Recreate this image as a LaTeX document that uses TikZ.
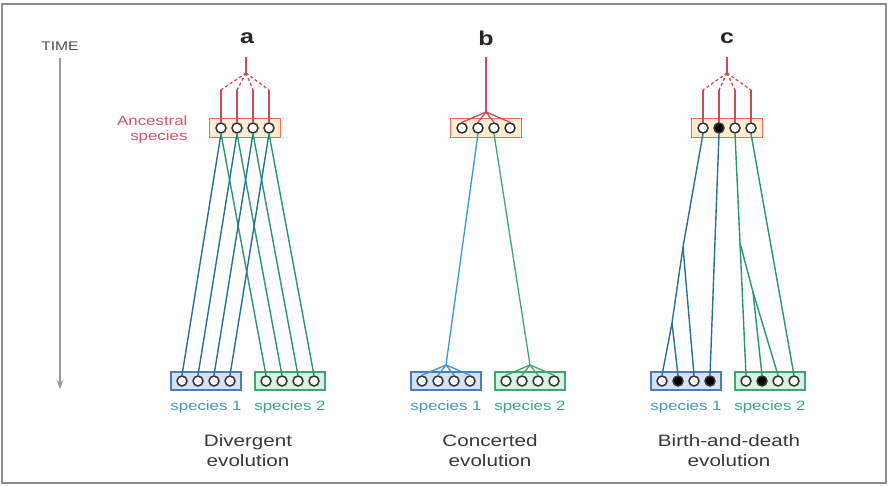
\documentclass[tikz,border=0pt]{standalone}
\usepackage{fontspec}
\setmainfont[FakeStretch=1.25]{Liberation Sans}
\usetikzlibrary{arrows.meta}
\definecolor{anctext}{RGB}{205,85,105}
\definecolor{ancline}{RGB}{205,75,85}
\definecolor{ancdraw}{RGB}{230,115,85}
\definecolor{ancfill}{RGB}{252,236,214}
\definecolor{blueline}{RGB}{40,110,150}
\definecolor{greenline}{RGB}{40,150,110}
\definecolor{bluedraw}{RGB}{75,125,190}
\definecolor{bluefill}{RGB}{212,226,245}
\definecolor{greendraw}{RGB}{65,165,115}
\definecolor{greenfill}{RGB}{218,241,226}
\definecolor{bluetext}{RGB}{75,150,185}
\definecolor{greentext}{RGB}{60,165,130}
\definecolor{framegray}{RGB}{140,140,140}
\definecolor{arrowgray}{RGB}{155,155,155}
\begin{document}
\begin{tikzpicture}[x=1pt,y=-1pt,
  gene/.style={circle, draw=black!80, fill=white, line width=1.5pt, minimum size=10pt, inner sep=0pt},
  dead/.style={gene, fill=black},
  ancbox/.style={draw=ancdraw, fill=ancfill, line width=1.3pt, minimum width=71pt, minimum height=19pt, inner sep=0pt},
  spAbox/.style={draw=bluedraw, fill=bluefill, line width=1.3pt, minimum width=70pt, minimum height=18pt, inner sep=0pt},
  spBbox/.style={draw=greendraw, fill=greenfill, line width=1.3pt, minimum width=70pt, minimum height=18pt, inner sep=0pt},
  paneltitle/.style={font=\fontsize{20}{22}\selectfont\bfseries, text=black!85},
  evo/.style={font=\fontsize{16.5}{20}\selectfont, text=black!78, align=center},
  spAlab/.style={font=\fontsize{13.5}{15}\selectfont, text=bluetext},
  spBlab/.style={font=\fontsize{13.5}{15}\selectfont, text=greentext},
  anclink/.style={draw=ancline, line width=1.3pt},
  ancdash/.style={draw=ancline, line width=1.3pt, dash pattern=on 3pt off 2.5pt},
  linkA/.style={draw=blueline, line width=1.4pt},
  linkB/.style={draw=greenline, line width=1.4pt},
  fanA/.style={draw=bluedraw!80!cyan, line width=1.3pt},
  fanB/.style={draw=greendraw, line width=1.3pt}
]
\useasboundingbox (0,0) rectangle (889,486);
\draw[framegray, line width=2pt] (2,4) rectangle (886,483);

% TIME arrow
\node[font=\fontsize{12.5}{14}\selectfont, text=black!70] (time) at (60,46) {TIME};
\coordinate (tend) at (60,389);
\draw[arrowgray, line width=2.2pt, -{Stealth[length=9pt,width=7pt]}] (time.south) ++(0,4) -- (tend);

% Ancestral label
\node[font=\fontsize{13.5}{15}\selectfont, text=anctext, align=right, anchor=east] (anclab) at (191,130) {Ancestral\\species};

%================ panel a
\node[paneltitle] (ta) at (247,38) {a};
\node[ancbox] (ancA) at (245,128) {};
\node[spAbox] (sAa) at (206,381) {};
\node[spBbox] (sBa) at (290,381) {};
\foreach \i/\x in {0/221,1/237,2/253,3/269} {\node[gene] (a\i) at (\x,128) {};}
\foreach \i/\x in {0/182,1/198,2/214,3/230} {\node[gene] (aA\i) at (\x,381) {};}
\foreach \i/\x in {0/266,1/282,2/298,3/314} {\node[gene] (aB\i) at (\x,381) {};}
\coordinate (stemTa) at (246,57);
\coordinate (apexa) at (246,73);
\draw[anclink] (stemTa) -- (apexa);
\foreach \i/\x in {0/221,1/237,2/253,3/269} {
  \coordinate (ta\i) at (\x,90);
  \draw[ancdash] (apexa) -- (ta\i);
  \draw[anclink] (ta\i) -- (a\i.north);
}
\foreach \i in {0,1,2,3} {
  \draw[linkA] (a\i.south) -- (aA\i.north);
  \draw[linkB] (a\i.south) -- (aB\i.north);
}
\node[spAlab] (la1) at (206,407) {species 1};
\node[spBlab] (la2) at (290,407) {species 2};
\node[evo] (eva) at (248,451) {Divergent\\evolution};

%================ panel b
\node[paneltitle] (tb) at (486,38) {b};
\node[ancbox] (ancB) at (486,128) {};
\node[spAbox] (sAb) at (446,381) {};
\node[spBbox] (sBb) at (530,381) {};
\foreach \i/\x in {0/462,1/478,2/494,3/510} {\node[gene] (b\i) at (\x,128) {};}
\foreach \i/\x in {0/422,1/438,2/454,3/470} {\node[gene] (bA\i) at (\x,381) {};}
\foreach \i/\x in {0/506,1/522,2/538,3/554} {\node[gene] (bB\i) at (\x,381) {};}
\coordinate (stemTb) at (486,57);
\coordinate (fanb) at (486,112);
\draw[anclink] (stemTb) -- (fanb);
\foreach \i in {0,1,2,3} {\draw[anclink] (fanb) -- (b\i.north);}
\coordinate (apexbA) at (446,365);
\coordinate (apexbB) at (530,365);
\draw[fanA] (b1.south) -- (apexbA);
\draw[fanB] (b2.south) -- (apexbB);
\foreach \i in {0,1,2,3} {
  \draw[fanA] (apexbA) -- (bA\i.north);
  \draw[fanB] (apexbB) -- (bB\i.north);
}
\node[spAlab] (lb1) at (446,407) {species 1};
\node[spBlab] (lb2) at (530,407) {species 2};
\node[evo] (evb) at (490,451) {Concerted\\evolution};

%================ panel c
\node[paneltitle] (tc) at (727,38) {c};
\node[ancbox] (ancC) at (727,128) {};
\node[spAbox] (sAc) at (686,381) {};
\node[spBbox] (sBc) at (770,381) {};
\node[gene] (c0) at (703,128) {};
\node[dead] (c1) at (719,128) {};
\node[gene] (c2) at (735,128) {};
\node[gene] (c3) at (751,128) {};
\node[gene] (cA0) at (662,381) {};
\node[dead] (cA1) at (678,381) {};
\node[gene] (cA2) at (694,381) {};
\node[dead] (cA3) at (710,381) {};
\node[gene] (cB0) at (746,381) {};
\node[dead] (cB1) at (762,381) {};
\node[gene] (cB2) at (778,381) {};
\node[gene] (cB3) at (794,381) {};
\coordinate (stemTc) at (727,57);
\coordinate (apexc) at (727,73);
\draw[anclink] (stemTc) -- (apexc);
\foreach \i/\x in {0/703,1/719,2/735,3/751} {
  \coordinate (tc\i) at (\x,90);
  \draw[ancdash] (apexc) -- (tc\i);
  \draw[anclink] (tc\i) -- (c\i.north);
}
\coordinate (pc1) at (683,247);
\coordinate (pc2) at (672,323);
\coordinate (pc3) at (740,243);
\coordinate (pc4) at (753,292);
\draw[linkA] (c0.south) -- (pc1) -- (pc2) -- (cA0.north);
\draw[linkA] (pc2) -- (cA1.north);
\draw[linkA] (pc1) -- (cA2.north);
\draw[linkA] (c1.south) -- (cA3.north);
\draw[linkB] (c2.south) -- (pc3) -- (cB0.north);
\draw[linkB] (pc3) -- (pc4) -- (cB1.north);
\draw[linkB] (pc4) -- (cB2.north);
\draw[linkB] (c3.south) -- (cB3.north);
\node[spAlab] (lc1) at (686,407) {species 1};
\node[spBlab] (lc2) at (770,407) {species 2};
\node[evo] (evc) at (729,451) {Birth-and-death\\evolution};
\end{tikzpicture}
\end{document}
